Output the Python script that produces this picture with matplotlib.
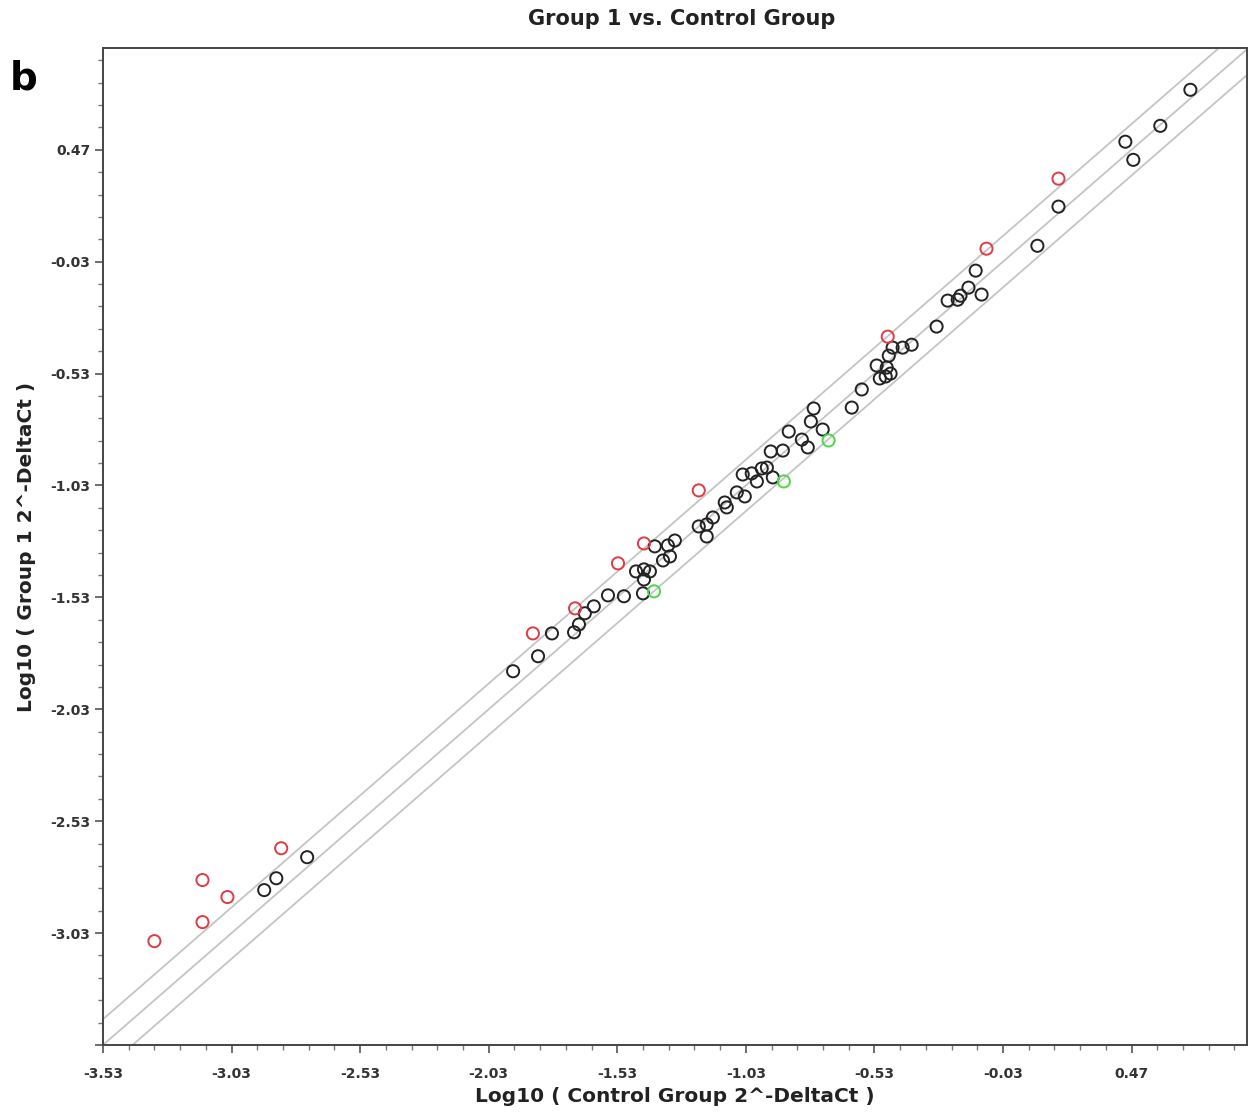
import numpy as np
import matplotlib
matplotlib.use("Agg")
import matplotlib.pyplot as plt
from matplotlib.ticker import FixedLocator

# genes inside the fold-change band (black)
black_x = [-2.736, -2.856, -2.903, -1.935, -1.838, -1.784, -1.698, -1.679, -1.656, -1.621,
           -1.566, -1.504, -1.430, -1.457, -1.426, -1.403, -1.426, -1.384, -1.352, -1.325,
           -1.333, -1.306, -1.213, -1.182, -1.182, -1.158, -1.112, -1.104, -1.065, -1.034,
           -1.042, -1.007, -0.987, -0.968, -0.948, -0.925, -0.933, -0.886, -0.863, -0.812,
           -0.789, -0.766, -0.777, -0.731, -0.618, -0.579, -0.521, -0.509, -0.486, -0.467,
           -0.482, -0.474, -0.459, -0.420, -0.385, -0.288, -0.245, -0.206, -0.195, -0.164,
           -0.113, -0.136, 0.104, 0.186, 0.477, 0.446, 0.582, 0.699]
black_y = [-2.691, -2.785, -2.838, -1.860, -1.793, -1.691, -1.686, -1.651, -1.601, -1.570,
           -1.521, -1.525, -1.512, -1.414, -1.405, -1.414, -1.450, -1.302, -1.365, -1.347,
           -1.298, -1.276, -1.213, -1.204, -1.258, -1.173, -1.106, -1.128, -1.061, -1.079,
           -0.981, -0.976, -1.012, -0.954, -0.950, -0.994, -0.878, -0.874, -0.789, -0.825,
           -0.860, -0.686, -0.744, -0.780, -0.682, -0.601, -0.494, -0.552, -0.543, -0.530,
           -0.503, -0.450, -0.414, -0.414, -0.401, -0.320, -0.204, -0.200, -0.182, -0.146,
           -0.177, -0.070, 0.041, 0.216, 0.425, 0.506, 0.577, 0.738]

# up-regulated (red)
red_x = [-2.837, -3.143, -3.046, -3.143, -3.330, -1.858, -1.694, -1.527, -1.426, -1.213,
         -0.478, -0.094, 0.186]
red_y = [-2.651, -2.793, -2.869, -2.981, -3.066, -1.691, -1.579, -1.378, -1.289, -1.052,
         -0.365, 0.028, 0.341]

# down-regulated (green)
green_x = [-1.387, -0.882, -0.708]
green_y = [-1.503, -1.012, -0.829]

fold_offset = 0.115
tick_vals = [-3.53, -3.03, -2.53, -2.03, -1.53, -1.03, -0.53, -0.03, 0.47]

fig = plt.figure(figsize=(12.56, 11.15), dpi=100)
ax = fig.add_axes([0.082, 0.0628, 0.911, 0.8942])

for off in (fold_offset, 0.0, -fold_offset):
    ax.axline((0, off), slope=1, color="#c4c4c4", lw=1.3, zorder=1)

ms = 76
ax.scatter(black_x, black_y, s=ms, facecolors="none", edgecolors="#222222", linewidths=1.4, zorder=3)
ax.scatter(red_x, red_y, s=ms, facecolors="none", edgecolors="#e03a44", linewidths=1.4, zorder=3)
ax.scatter(green_x, green_y, s=ms, facecolors="none", edgecolors="#4ad84a", linewidths=1.4, zorder=3)

ax.set_xlim(-3.53, 0.92)
ax.set_ylim(-3.53, 0.925)

ax.xaxis.set_major_locator(FixedLocator(tick_vals))
ax.yaxis.set_major_locator(FixedLocator(tick_vals))
ax.xaxis.set_minor_locator(FixedLocator(np.round(np.arange(-3.53, 0.92, 0.1), 2)))
ax.yaxis.set_minor_locator(FixedLocator(np.round(np.arange(-3.53, 0.93, 0.1), 2)))
ax.set_xticklabels(["%.2f" % v for v in tick_vals])
# the corner value is only printed once, on the x axis
ax.set_yticklabels([""] + ["%.2f" % v for v in tick_vals[1:]])

ax.tick_params(which="major", length=6, width=1.2, color="#555555", labelsize=10,
               labelcolor="#333333", direction="out")
ax.tick_params(which="minor", length=3.5, width=1.0, color="#777777", direction="out")
ax.tick_params(axis="x", pad=10)
ax.tick_params(axis="y", pad=3)
for lab in ax.get_xticklabels() + ax.get_yticklabels():
    lab.set_fontweight("bold")

for sp in ax.spines.values():
    sp.set_color("#444444")
    sp.set_linewidth(1.4)

ax.set_xlabel("Log10 ( Control Group 2^-DeltaCt )", fontsize=14.5, fontweight="bold",
              color="#222222", labelpad=4)
ax.set_ylabel("Log10 ( Group 1 2^-DeltaCt )", fontsize=14.5, fontweight="bold",
              color="#222222", labelpad=10)

fig.text(0.543, 0.983, "Group 1 vs. Control Group", ha="center", va="center",
         fontsize=15, fontweight="bold", color="#222222")
fig.text(0.008, 0.930, "b", ha="left", va="center", fontsize=28, fontweight="bold")

fig.savefig("out.png", dpi=100)
